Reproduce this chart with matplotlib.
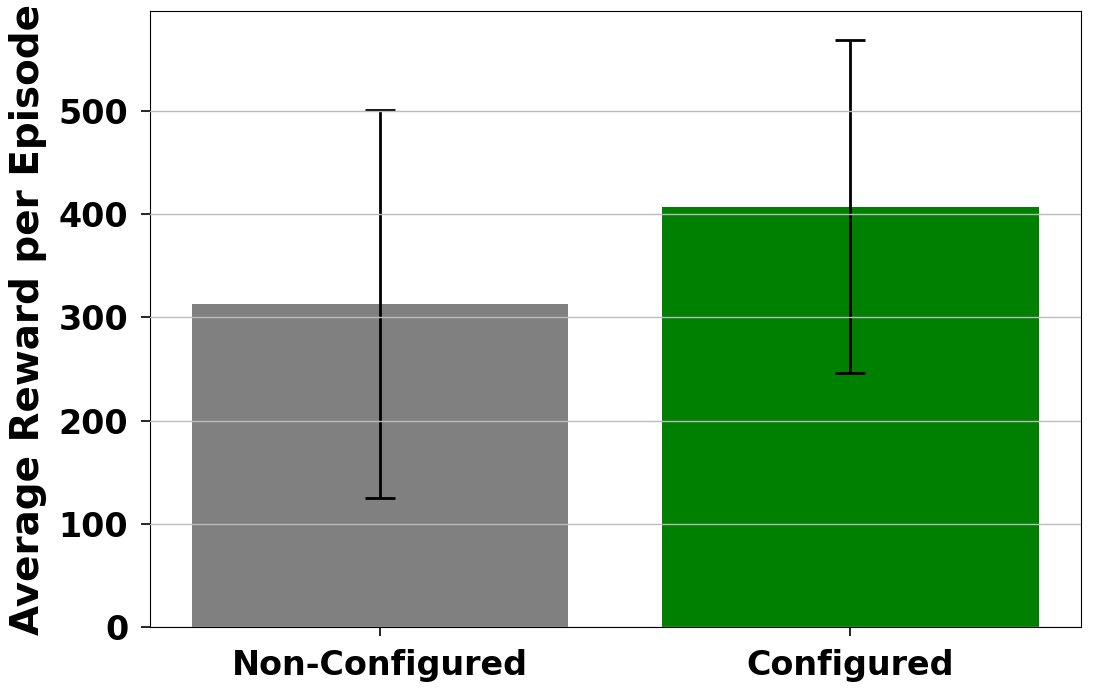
import matplotlib.pyplot as plt
import numpy as np

# bar chart of average reward, configured vs not
labels = ["Non-Configured", "Configured"]
means = [313, 407]
errs = [188, 161]
colors = ["grey", "green"]

plt.rcParams["font.weight"] = "bold"
plt.rcParams["font.size"] = 24

fig, ax = plt.subplots(figsize=(10.94, 6.96), dpi=100)
index = np.arange(len(labels))
ax.bar(index, means, yerr=errs, color=colors, width=0.8,
       error_kw=dict(capsize=11, elinewidth=2, capthick=2, ecolor="black"))
ax.set_xticks(index)
ax.set_xticklabels(labels, fontweight="bold")
ax.set_ylabel("Average Reward per Episode", fontweight="bold", fontsize=28, labelpad=8)
ax.tick_params(length=6.5, width=1.2, pad=9)
ax.yaxis.grid(True, color="#bbbbbb", linewidth=1)
ax.set_axisbelow(False)
plt.subplots_adjust(left=0.137, right=0.988, top=0.984, bottom=0.099)
plt.savefig("out.png", dpi=100)
